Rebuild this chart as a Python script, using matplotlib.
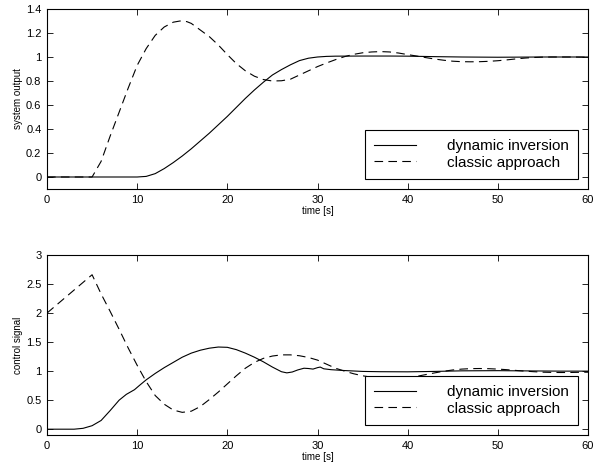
import matplotlib
matplotlib.use("Agg")
import matplotlib.pyplot as plt

# ---- data ----
t_out_di = [0, 10, 11, 12, 13, 14, 15, 16, 17, 18, 19, 20, 21, 22, 23, 24, 25, 26, 27, 28, 29, 30,
            31, 32, 35, 38, 40, 43, 46, 50, 55, 60]
y_out_di = [0, 0, 0.005, 0.028, 0.07, 0.12, 0.175, 0.235, 0.3, 0.365, 0.435, 0.505, 0.58, 0.655,
            0.725, 0.79, 0.85, 0.895, 0.935, 0.97, 0.99, 1.0, 1.005, 1.007, 1.008, 1.008, 1.007,
            1.003, 1.0, 0.998, 1.0, 1.0]

t_out_cl = [0, 5, 6, 7, 8, 9, 10, 11, 12, 13, 14, 14.75, 15.5, 16, 17, 18, 19, 20, 21, 22, 23, 24,
            25, 26, 27, 28, 29, 30, 31, 32, 33, 34, 35, 36, 37, 38, 39, 40, 41, 42, 43, 44, 45, 46,
            47, 48, 49, 50, 51, 52, 53, 54, 55, 56, 58, 60]
y_out_cl = [0, 0, 0.13, 0.34, 0.54, 0.74, 0.93, 1.07, 1.18, 1.25, 1.29, 1.30, 1.295, 1.28, 1.225,
            1.17, 1.10, 1.02, 0.945, 0.885, 0.84, 0.812, 0.80, 0.802, 0.815, 0.85, 0.885, 0.92,
            0.95, 0.978, 1.003, 1.022, 1.035, 1.042, 1.045, 1.042, 1.033, 1.02, 1.008, 0.995,
            0.983, 0.973, 0.965, 0.961, 0.96, 0.961, 0.964, 0.969, 0.976, 0.984, 0.991, 0.996,
            0.999, 1.0, 1.0, 0.998]

t_u_di = [0, 3, 4, 5, 6, 7, 8, 8.8, 9.7, 10.3, 11, 12, 13, 14, 15, 16, 17, 18, 19, 20, 21, 22, 23,
          24, 25, 26, 26.6, 27.2, 27.8, 28.5, 29, 29.5, 30, 30.3, 30.7, 31.5, 33, 35, 37, 40, 43,
          46, 50, 54, 57, 60]
y_u_di = [0, 0, 0.015, 0.06, 0.15, 0.32, 0.5, 0.6, 0.68, 0.76, 0.85, 0.96, 1.06, 1.15, 1.24, 1.31,
          1.36, 1.395, 1.415, 1.41, 1.37, 1.31, 1.24, 1.16, 1.07, 0.99, 0.97, 0.985, 1.02, 1.05,
          1.045, 1.035, 1.06, 1.07, 1.04, 1.025, 1.01, 0.995, 0.99, 0.988, 0.995, 1.005, 1.008,
          1.003, 1.0, 1.0]

t_u_cl = [0, 5, 6, 7, 8, 9, 10, 11, 12, 13, 14, 15, 16, 17, 18, 19, 20, 21, 22, 23, 24, 25, 26, 27,
          28, 29, 30, 31, 32, 33, 34, 35, 36, 37, 38, 39, 40, 41, 42, 43, 44, 45, 46, 47, 48, 49,
          50, 51, 52, 53, 54, 55, 56, 57, 58, 59, 60]
y_u_cl = [2.0, 2.66, 2.33, 2.03, 1.72, 1.40, 1.10, 0.82, 0.58, 0.43, 0.33, 0.29, 0.31, 0.39, 0.51,
          0.64, 0.78, 0.92, 1.05, 1.15, 1.22, 1.26, 1.28, 1.28, 1.265, 1.235, 1.19, 1.12, 1.05,
          1.0, 0.955, 0.92, 0.895, 0.88, 0.876, 0.878, 0.89, 0.91, 0.94, 0.97, 0.998, 1.02, 1.035,
          1.043, 1.045, 1.042, 1.035, 1.025, 1.012, 1.0, 0.99, 0.982, 0.978, 0.976, 0.977, 0.98,
          0.982]

labels = ["dynamic inversion", "classic approach"]
xticks = [0, 10, 20, 30, 40, 50, 60]
yticks_top = [0, 0.2, 0.4, 0.6, 0.8, 1, 1.2, 1.4]
yticks_bot = [0, 0.5, 1, 1.5, 2, 2.5, 3]

plt.rcParams['font.family'] = ['Liberation Sans', 'DejaVu Sans']
plt.rcParams['lines.scale_dashes'] = False

fig = plt.figure(figsize=(6.02, 4.70), dpi=100)
W, H = 602, 470
ax1 = fig.add_axes([47 / W, 1 - 189 / H, 541 / W, 180 / H])
ax2 = fig.add_axes([47 / W, 1 - 435 / H, 541 / W, 180 / H])


def fmt(v):
    return "%g" % v


def style(ax, yticks, ylim, ylabel):
    ax.set_xlim(0, 60)
    ax.set_ylim(*ylim)
    ax.set_xticks(xticks)
    ax.set_xticklabels([fmt(v) for v in xticks])
    ax.set_yticks(yticks)
    ax.set_yticklabels([fmt(v) for v in yticks])
    ax.tick_params(direction='in', top=True, right=True, length=4, width=0.6,
                   labelsize=8, pad=4)
    for sp in ax.spines.values():
        sp.set_linewidth(0.8)
    ax.set_xlabel("time [s]", fontsize=7, labelpad=1)
    ax.set_ylabel(ylabel, fontsize=7, labelpad=2)


dash = (0, (6.2, 3.8))
ax1.plot(t_out_di, y_out_di, color='black', lw=0.8, label=labels[0])
ax1.plot(t_out_cl, y_out_cl, color='black', lw=0.8, linestyle=dash, label=labels[1])
style(ax1, yticks_top, (-0.1, 1.4), "system output")

ax2.plot(t_u_di, y_u_di, color='black', lw=0.8, label=labels[0])
ax2.plot(t_u_cl, y_u_cl, color='black', lw=0.8, linestyle=dash, label=labels[1])
style(ax2, yticks_bot, (-0.1, 3), "control signal")

for ax in (ax1, ax2):
    leg = ax.legend(loc='lower right', fontsize=11, handlelength=2.75, handletextpad=2.0,
                    borderpad=0.62, labelspacing=0.15, borderaxespad=0.65, fancybox=False,
                    framealpha=1, edgecolor='black')
    leg.get_frame().set_linewidth(0.8)

fig.savefig("out.png", dpi=100)
